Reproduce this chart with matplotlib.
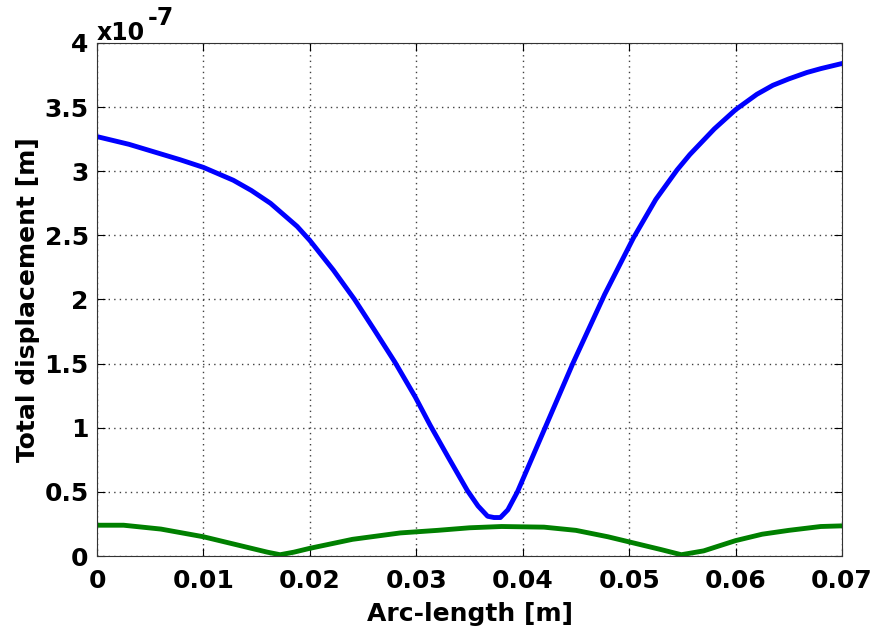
import matplotlib
matplotlib.use("Agg")
import matplotlib.pyplot as plt
from matplotlib.ticker import FuncFormatter, MultipleLocator
import numpy as np

SKALA = 1e-7

# kurva biru (total displacement, dalam satuan 1e-7 m)
arc_biru = [0.0, 0.003, 0.005, 0.0078, 0.010, 0.0128, 0.0145, 0.0163, 0.0188,
            0.020, 0.0222, 0.0242, 0.026, 0.028, 0.0299, 0.0313, 0.033,
            0.0348, 0.0358, 0.0367, 0.0373, 0.0379, 0.0386, 0.0395, 0.0408,
            0.0421, 0.0447, 0.0477, 0.0504, 0.0525, 0.0545, 0.0557, 0.058,
            0.060, 0.062, 0.0635, 0.065, 0.0667, 0.068, 0.070]
disp_biru = [3.27, 3.21, 3.16, 3.09, 3.03, 2.93, 2.85, 2.75, 2.57,
             2.46, 2.23, 2.00, 1.77, 1.51, 1.24, 1.02, 0.77,
             0.51, 0.39, 0.31, 0.30, 0.30, 0.36, 0.50, 0.75,
             1.00, 1.50, 2.04, 2.48, 2.78, 3.01, 3.13, 3.33,
             3.48, 3.60, 3.67, 3.72, 3.77, 3.80, 3.84]

# kurva hijau
arc_hijau = [0.0, 0.0025, 0.006, 0.010, 0.0135, 0.0160, 0.0172, 0.0185, 0.020,
             0.024, 0.0285, 0.032, 0.035, 0.038, 0.042, 0.045, 0.048,
             0.050, 0.053, 0.0549, 0.057, 0.060, 0.0625, 0.065, 0.068, 0.070]
disp_hijau = [0.24, 0.24, 0.21, 0.15, 0.08, 0.03, 0.01, 0.03, 0.06,
              0.13, 0.18, 0.20, 0.22, 0.23, 0.225, 0.20, 0.15,
              0.11, 0.05, 0.01, 0.04, 0.12, 0.17, 0.20, 0.23, 0.235]

plt.rcParams["font.family"] = ["DejaVu Sans"]
plt.rcParams["font.weight"] = "bold"

fig = plt.figure(figsize=(8.75, 6.35), dpi=100)
ax = fig.add_axes([0.1109, 0.1244, 0.8514, 0.8079])

ax.plot(arc_biru, np.array(disp_biru) * SKALA, color="#0000ff", lw=3.5,
        solid_capstyle="round", solid_joinstyle="round")
ax.plot(arc_hijau, np.array(disp_hijau) * SKALA, color="#008000", lw=3.5,
        solid_capstyle="round", solid_joinstyle="round")

ax.set_xlim(0, 0.07)
ax.set_ylim(0, 4 * SKALA)
ax.xaxis.set_major_locator(MultipleLocator(0.01))
ax.yaxis.set_major_locator(MultipleLocator(0.5 * SKALA))
ax.xaxis.set_major_formatter(FuncFormatter(lambda v, p: f"{v:g}"))
ax.yaxis.set_major_formatter(FuncFormatter(lambda v, p: f"{round(v / SKALA, 2):g}"))

ax.grid(True, linestyle=(0, (1, 3)), color="#404040", linewidth=1.0)
ax.tick_params(direction="in", length=6, top=True, right=True, labelsize=18)
ax.tick_params(axis="x", pad=9)
ax.tick_params(axis="y", pad=6)
for lbl in ax.get_xticklabels() + ax.get_yticklabels():
    lbl.set_fontweight("bold")
for s in ax.spines.values():
    s.set_color("#333333")

ax.set_xlabel("Arc-length [m]", fontsize=18, fontweight="bold", labelpad=7)
ax.set_ylabel("Total displacement [m]", fontsize=18, fontweight="bold", labelpad=3)

# faktor skala di pojok kiri atas
fig.text(97 / 875, 1 - 40 / 635, "x10", fontsize=17, fontweight="bold",
         ha="left", va="baseline")
fig.text(148 / 875, 1 - 25 / 635, "-7", fontsize=17, fontweight="bold",
         ha="left", va="baseline")

fig.savefig("out.png", dpi=100)
